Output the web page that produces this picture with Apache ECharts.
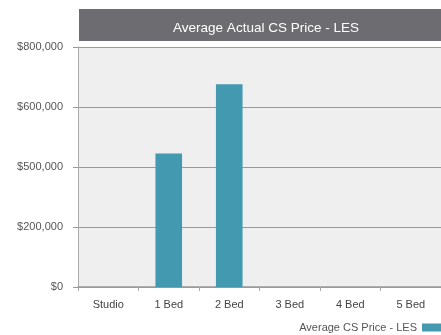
<!DOCTYPE html>
<html><head><meta charset="utf-8">
<script src="https://cdn.jsdelivr.net/npm/echarts@6/dist/echarts.min.js"></script>
<style>html,body{margin:0;padding:0;background:#fff}#c{width:441px;height:335px}</style>
</head><body><div id="c"></div>
<script>
const categories = ['Studio', '1 Bed', '2 Bed', '3 Bed', '4 Bed', '5 Bed'];
const seriesName = 'Average CS Price - LES';
const values = [0, 445000, 676000, 0, 0, 0];
const yTickLabels = ['$0', '$200,000', '$500,000', '$600,000', '$800,000'];
const titleText = 'Average Actual CS Price - LES';

const chart = echarts.init(document.getElementById('c'));
chart.setOption({
  animation: false,
  textStyle: { fontFamily: 'Liberation Sans, Arial, sans-serif' },
  graphic: [{
    type: 'rect', left: 79, top: 9, shape: { width: 370, height: 32 },
    style: { fill: '#6d6c70' }, z: 0
  }],
  title: {
    text: titleText, left: 261, textAlign: 'center', top: 16,
    textStyle: { color: '#ffffff', fontSize: 13.5, fontWeight: 'normal', fontFamily: 'Liberation Sans, Arial, sans-serif' }
  },
  legend: {
    data: [seriesName], right: -6, bottom: -3, align: 'right',
    itemWidth: 20, itemHeight: 8, itemGap: 6,
    textStyle: { color: '#555', fontSize: 11 },
    icon: 'rect'
  },
  grid: {
    left: 78, right: -4, top: 47, bottom: 48, show: true,
    backgroundColor: '#efefef', borderWidth: 0
  },
  xAxis: {
    type: 'category', data: categories,
    axisLine: { lineStyle: { color: '#999', width: 1.5 } },
    axisTick: { show: true, length: 4, lineStyle: { color: '#aaa' } },
    axisLabel: { color: '#444', fontSize: 11, margin: 12 }
  },
  yAxis: {
    type: 'value', min: 0, max: 800000, interval: 200000,
    axisLine: { show: true, lineStyle: { color: '#aaa', width: 1 } },
    axisTick: { show: true, length: 5, lineStyle: { color: '#999' } },
    splitLine: { lineStyle: { color: '#999', width: 1.2 } },
    axisLabel: {
      color: '#555', fontSize: 11, margin: 15,
      formatter: (v) => yTickLabels[Math.round(v / 200000)]
    }
  },
  series: [{
    name: seriesName, type: 'bar', data: values, barWidth: '44%',
    itemStyle: { color: '#4299b0' }
  }]
});
</script></body></html>
